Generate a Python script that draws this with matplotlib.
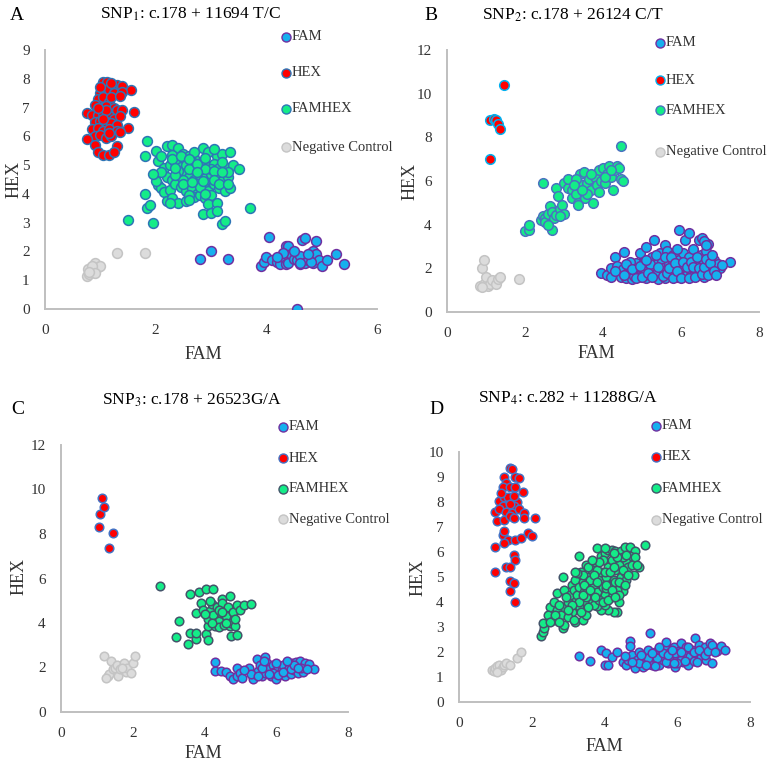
import numpy as np
import matplotlib
matplotlib.use("Agg")
import matplotlib.pyplot as plt
from matplotlib.lines import Line2D

plt.rcParams['font.family'] = ['Liberation Serif', 'DejaVu Serif']
plt.rcParams['mathtext.fontset'] = 'stix'

# ---------------- data (FAM, HEX) ----------------
# panel A
a_hex = [(1.05,7.9),(1.12,7.9),(1.3,7.8),(1.4,7.75),(1.55,7.6),(1.2,7.7),(1.1,7.6),(1.0,7.5),
         (1.25,7.5),(1.4,7.55),(0.95,7.3),(1.05,7.35),(1.15,7.2),(1.2,7.35),(1.35,7.4),(0.9,7.1),
         (1.0,7.0),(1.1,7.05),(1.25,7.0),(1.3,6.9),(1.4,6.9),(0.75,6.8),(0.85,6.75),(0.95,6.75),
         (1.05,6.8),(1.15,6.7),(1.25,6.6),(1.35,6.7),(1.6,6.85),(0.9,6.5),(1.0,6.55),(1.1,6.5),
         (1.2,6.45),(1.3,6.4),(0.85,6.25),(0.95,6.3),(1.05,6.2),(1.15,6.25),(1.3,6.2),(1.5,6.3),
         (0.9,6.0),(1.0,6.05),(1.1,5.95),(1.2,6.0),(1.35,6.15),(0.75,5.9),(0.9,5.7),(1.3,5.65),
         (0.95,5.45),(1.05,5.35),(1.15,5.35),(1.25,5.45),(1.1,6.9),(1.0,7.7),(1.2,7.85),(0.95,7.0),
         (1.05,6.6),(1.15,6.1)]
a_famhex = [(2.0,5.5),(2.05,5.15),(2.1,5.3),(2.2,5.65),(2.3,5.7),(2.4,5.6),(2.5,5.4),(2.6,5.3),
            (2.7,5.25),(2.85,5.6),(2.95,5.45),(3.1,5.3),(3.2,5.4),(3.35,5.45),(2.15,4.9),(2.25,5.0),
            (2.35,5.1),(2.45,4.95),(2.55,5.0),(2.65,5.1),(2.75,4.9),(2.85,5.0),(2.95,4.95),(3.05,5.05),
            (3.15,4.9),(3.25,4.95),(3.4,5.0),(3.5,4.85),(2.05,4.3),(2.1,4.2),(2.2,4.6),(2.3,4.5),
            (2.4,4.4),(2.5,4.7),(2.6,4.6),(2.7,4.5),(2.8,4.65),(2.9,4.55),(3.0,4.7),(3.1,4.6),
            (3.2,4.45),(3.3,4.6),(2.15,4.05),(2.25,4.15),(2.35,4.35),(2.45,4.25),(2.55,4.1),(2.65,4.2),
            (2.75,4.0),(2.85,4.3),(2.95,4.1),(3.05,4.35),(3.15,4.2),(3.25,4.1),(3.35,4.2),(2.2,3.75),
            (2.3,3.85),(2.4,3.7),(2.55,3.75),(2.7,3.9),(2.8,3.95),(2.9,3.85),(3.0,3.95),(2.95,3.65),
            (3.1,3.7),(2.0,4.45),(2.6,4.85),(2.8,4.25),(3.0,4.85),(2.4,4.8),(2.7,5.45),(3.05,5.55),
            (2.3,5.35),(3.2,5.1),(2.5,4.5),(2.9,4.85),(3.3,4.75),(2.1,4.75),(2.35,4.65),
            (2.3,5.2),(2.45,5.3),(2.6,5.2),(2.75,5.05),(2.9,5.25),(3.05,4.8),(3.2,4.75),(2.5,4.35),
            (2.65,4.4),(2.75,4.75),(2.85,4.45),(3.05,4.5),(3.15,4.35),(2.35,4.9),(2.9,4.0),(3.3,4.35),
            (2.6,3.95),
            (1.5,3.1),(1.8,4.0),(1.85,3.5),(1.9,3.6),(1.95,3.0),(1.8,5.3),(1.85,5.85),(1.95,4.7),
            (3.7,3.5),(3.2,2.95),(3.25,3.05),(2.85,3.3),(3.0,3.35),(3.1,3.4),(2.6,3.8),(2.25,3.7)]
a_fam = [(3.9,1.5),(3.95,1.65),(4.0,1.8),(4.05,2.5),(4.1,1.7),(4.2,1.65),(4.25,1.55),(4.3,1.8),
         (4.35,2.2),(4.4,2.2),(4.35,1.55),(4.4,1.6),(4.45,1.9),(4.5,1.75),(4.55,1.7),(4.6,1.55),
         (4.6,1.85),(4.65,2.4),(4.7,2.45),(4.7,1.6),(4.75,1.7),(4.8,1.95),(4.85,2.0),(4.9,2.35),
         (4.9,1.9),(4.85,1.6),(4.95,1.7),(5.0,1.5),(5.1,1.7),(5.25,1.9),(5.4,1.55),(4.3,1.95),
         (4.5,2.0),(4.6,1.6),(4.8,1.65),(2.8,1.75),(3.0,2.0),(3.3,1.75),(4.55,0.0),(4.2,1.8),(4.75,1.9)]
a_neg = [(0.75,1.15),(0.8,1.2),(0.78,1.4),(0.85,1.3),(0.9,1.6),(0.95,1.45),(1.0,1.5),(0.85,1.5),
         (0.9,1.25),(1.3,1.95),(1.8,1.95),(0.8,1.3)]

# panel B
b_hex = [(1.1,7.0),(1.1,8.8),(1.2,8.85),(1.25,8.8),(1.3,8.6),(1.35,8.4),(1.45,10.4)]
b_famhex = [(2.0,3.7),(2.1,3.75),(2.1,4.0),(2.4,4.2),(2.45,4.4),(2.5,4.3),(2.5,4.1),(2.6,4.5),
            (2.65,4.85),(2.7,3.75),(2.7,4.6),(2.75,4.3),(2.8,4.45),(2.8,5.7),(2.85,5.3),(2.9,4.7),
            (2.95,4.9),(3.0,4.5),(3.0,5.9),(3.1,5.7),(3.2,5.6),(3.2,5.2),(3.3,5.4),(3.35,5.0),
            (3.4,6.3),(3.45,5.8),(3.5,6.4),(3.5,5.5),(3.55,5.2),(3.6,5.9),(3.65,6.1),(3.7,5.6),
            (3.75,5.0),(3.8,6.2),(3.85,5.8),(3.9,6.5),(3.95,6.0),(4.0,6.6),(4.05,5.9),(4.1,6.3),
            (4.15,6.7),(4.2,6.2),(4.25,5.6),(4.3,6.5),(4.35,6.7),(4.4,6.6),(4.45,6.1),(4.5,6.0),
            (4.45,7.6),(2.45,5.9),(3.1,6.1),(3.3,6.1),(3.6,5.4),(3.9,5.5),(3.35,4.9),(4.05,6.2),
            (3.25,5.8),(2.6,4.0),(2.9,4.4),(3.45,5.6),(4.2,6.5),(3.7,6.3)]
b_fam = [(3.95,1.8),(4.1,1.7),(4.2,2.0),(4.3,2.5),(4.35,2.1),(4.4,1.8),(4.45,1.6),(4.5,1.95),
         (4.55,2.75),(4.6,1.55),(4.65,2.1),(4.7,1.75),(4.75,1.5),(4.8,2.0),(4.85,2.25),(4.9,1.6),
         (4.95,2.7),(5.0,1.9),(5.05,2.3),(5.1,1.55),(5.1,3.0),(5.15,2.05),(5.2,1.7),(5.25,2.5),
         (5.3,3.3),(5.3,1.9),(5.35,2.2),(5.4,1.5),(5.45,2.7),(5.5,1.8),(5.5,2.35),(5.55,2.0),
         (5.6,3.05),(5.6,1.55),(5.65,2.8),(5.7,2.2),(5.75,1.8),(5.8,2.6),(5.85,2.0),(5.9,1.6),
         (5.95,3.75),(5.95,2.4),(6.0,1.85),(6.05,2.7),(6.1,3.3),(6.1,2.1),(6.15,1.7),(6.2,3.6),
         (6.2,2.5),(6.25,1.9),(6.3,2.9),(6.35,2.2),(6.4,1.75),(6.45,3.3),(6.5,2.6),(6.5,1.95),
         (6.55,3.4),(6.6,2.3),(6.6,1.6),(6.65,2.8),(6.7,3.1),(6.75,2.0),(6.8,1.8),(6.85,2.4),
         (6.9,2.1),(7.0,2.0),(7.25,2.3),(5.0,2.0),(5.2,2.2),(5.4,1.9),(5.8,2.3),(6.0,2.1),
         (4.7,2.3),(5.9,2.9),(6.3,1.65),(5.6,1.9),(5.05,1.75),(4.8,1.65),(6.95,2.2),
         (4.2,1.6),(4.3,1.9),(4.55,1.7),(4.6,2.2),(4.75,1.95),(4.85,1.55),(4.95,2.1),(5.0,1.6),
         (5.1,2.4),(5.15,1.8),(5.25,1.6),(5.35,2.6),(5.4,2.05),(5.55,1.65),(5.6,2.5),(5.65,1.8),
         (5.7,2.0),(5.75,2.5),(5.8,1.55),(5.85,2.25),(5.9,1.9),(6.0,1.55),(6.05,2.3),(6.15,2.05),
         (6.2,1.55),(6.25,2.3),(6.3,2.05),(6.35,1.6),(6.4,2.5),(6.45,2.0),(6.55,1.75),(6.6,2.05),
         (6.65,2.45),(6.7,1.7),(6.75,2.25),(6.8,2.6),(6.85,1.9),(6.9,1.7),(7.05,2.15),(6.6,3.25),
         (6.65,3.05)]
b_neg = [(0.85,1.2),(0.9,2.0),(0.95,2.4),(0.95,1.3),(1.0,1.6),(1.05,1.2),(1.1,1.3),(1.15,1.45),
         (1.25,1.3),(1.3,1.5),(1.35,1.6),(1.85,1.5),(0.9,1.15)]

# panel C
c_hex = [(1.05,8.3),(1.1,8.9),(1.15,9.6),(1.2,9.2),(1.35,7.35),(1.45,8.05)]
c_famhex = [(2.75,5.65),(3.2,3.35),(3.3,4.1),(3.55,3.05),(3.6,3.55),(3.6,5.3),(3.75,3.3),(3.75,3.55),
            (3.75,4.45),(3.85,5.4),(3.9,4.9),(3.95,4.6),(4.05,5.55),(4.05,3.5),(4.1,3.85),(4.1,4.2),
            (4.1,3.25),(4.15,4.55),(4.2,4.85),(4.25,5.55),(4.25,4.35),(4.3,4.0),(4.3,3.85),(4.35,4.7),
            (4.4,4.1),(4.4,3.8),(4.45,4.45),(4.5,5.1),(4.5,4.9),(4.55,3.9),(4.6,4.3),(4.65,4.7),
            (4.7,5.2),(4.7,3.85),(4.75,4.0),(4.75,3.4),(4.8,4.5),(4.85,3.85),(4.9,4.8),(4.9,3.45),
            (5.0,4.6),(5.1,4.8),(5.3,4.85),(4.2,4.0),(4.4,4.6),(4.6,4.0),(4.0,4.4),(4.15,5.0),
            (4.85,4.2),(4.5,4.5)]
c_fam = [(4.3,1.85),(4.3,2.25),(4.45,1.85),(4.6,1.8),(4.7,1.6),(4.8,1.5),(4.9,1.6),(4.9,2.0),
         (5.0,1.75),(5.05,1.55),(5.2,1.9),(5.25,2.0),(5.35,1.5),(5.4,1.7),(5.45,2.4),(5.5,1.85),
         (5.55,2.1),(5.6,1.6),(5.7,2.45),(5.7,1.75),(5.75,2.2),(5.8,1.95),(5.85,1.6),(5.9,2.1),
         (5.95,1.8),(6.0,1.5),(6.05,2.0),(6.1,1.7),(6.15,1.9),(6.2,2.1),(6.25,1.6),(6.3,1.85),
         (6.35,2.0),(6.4,1.7),(6.45,2.2),(6.5,1.9),(6.55,2.25),(6.6,1.75),(6.65,2.3),(6.7,2.0),
         (6.75,1.8),(6.8,2.2),(6.9,2.15),(7.05,1.95),(6.0,2.2),(5.6,2.0),(5.3,1.7),(6.7,2.0),
         (5.1,1.9),(5.5,1.6),(5.65,2.3),(5.9,1.75),(6.05,1.65),(6.2,1.8),(6.4,1.95),(6.5,2.1),
         (6.6,2.0),(6.85,1.95),(5.8,1.7),(6.3,2.3)]
c_neg = [(1.2,2.5),(1.3,1.6),(1.35,1.7),(1.4,2.3),(1.45,1.95),(1.5,2.0),(1.55,2.1),(1.6,1.6),
         (1.65,1.95),(1.75,2.2),(1.8,1.8),(1.85,2.0),(1.95,1.75),(2.0,2.2),(2.05,2.5),(1.25,1.55),
         (1.7,2.0)]

# panel D
d_hex = [(1.4,9.35),(1.45,9.3),(1.25,9.0),(1.55,9.0),(1.65,8.95),(1.3,8.75),(1.2,8.6),(1.4,8.6),
         (1.55,8.6),(1.75,8.4),(1.1,8.05),(1.25,8.2),(1.35,8.2),(1.6,8.0),(1.2,7.85),(1.5,7.85),
         (1.0,7.6),(1.1,7.7),(1.3,7.6),(1.45,7.55),(1.65,7.7),(1.8,7.55),(1.05,7.25),(1.25,7.3),
         (1.4,7.45),(1.5,7.35),(1.8,7.35),(2.1,7.35),(1.2,6.7),(1.25,6.85),(1.35,6.5),(1.55,6.5),
         (1.7,6.55),(1.9,6.75),(2.0,6.65),(1.25,6.35),(1.0,6.2),(1.5,5.9),(1.55,5.7),(1.3,5.4),
         (1.4,5.4),(1.0,5.2),(1.4,4.85),(1.5,4.75),(1.4,4.45),(1.55,4.0),(1.15,8.35),(1.5,8.25),
         (1.4,7.9)]
d_famhex = [(2.25,2.65),(2.3,2.8),(2.35,2.95),(2.3,3.15),(2.5,3.8),(2.45,3.5),(2.6,3.3),(2.7,3.7),
            (2.85,2.95),(2.9,3.1),(2.7,4.35),(2.9,4.5),(2.85,5.0),(3.2,3.2),(3.1,3.6),(3.3,5.85),
            (3.4,3.3),(3.5,3.5),(3.5,5.5),(3.75,5.6),(3.8,6.15),(3.9,5.85),(4.0,5.95),(4.1,6.1),
            (4.2,6.1),(4.3,6.05),(4.45,6.05),(4.55,6.2),(4.7,6.2),(4.85,6.05),(5.1,6.3),(4.95,5.4),
            (4.8,5.1),(4.7,5.85),(4.6,5.6),(4.5,4.45),(4.4,4.0),(4.35,3.6),(4.25,3.6),(4.1,3.7),
            (3.9,3.7),(3.8,3.85),(3.65,4.05),(3.45,4.0),(3.3,3.85),(3.2,4.1),
            (2.8,3.5),(2.9,3.8),(3.0,4.0),(3.05,4.3),(3.1,4.7),(3.15,4.5),(3.2,4.9),(3.25,4.3),
            (3.3,4.6),(3.35,5.2),(3.4,4.8),(3.45,4.4),(3.5,4.6),(3.55,5.0),(3.6,4.3),(3.65,5.3),
            (3.7,4.7),(3.75,5.0),(3.8,4.4),(3.85,4.9),(3.9,5.2),(3.95,4.6),(4.0,4.3),(4.05,5.0),
            (4.1,5.4),(4.15,4.7),(4.2,5.7),(4.25,4.9),(4.3,5.3),(4.35,4.5),(4.4,5.5),(4.45,5.0),
            (4.5,5.8),(4.55,5.2),(4.6,4.9),(4.65,5.4),(4.2,4.2),(4.0,3.9),(3.7,3.9),(3.5,4.2),
            (3.3,4.0),(3.0,3.4),(3.1,3.9),(3.4,5.1),(3.6,4.9),(3.8,5.3),(3.85,4.1),(4.05,4.55),
            (4.3,4.8),(4.4,4.3),(3.25,5.15),(3.55,5.4),(4.6,5.9),(3.95,5.7),(2.6,4.0),(2.75,3.9),
            (2.5,3.2),(2.65,3.5),(2.75,3.2),(2.95,4.2),(3.0,3.7),(3.15,3.3),(3.2,5.2),(3.35,3.6),
            (3.4,4.3),(3.45,4.7),(3.55,3.8),(3.6,4.5),(3.7,5.1),(3.75,4.2),(3.8,4.8),(3.85,5.6),
            (3.95,4.0),(4.0,5.2),(4.05,4.7),(4.1,4.1),(4.15,5.2),(4.2,4.5),(4.25,5.4),(4.3,4.2),
            (4.35,5.8),(4.4,4.8),(4.5,5.3),(4.55,4.7),(4.65,5.1),(4.75,5.5),(4.85,5.8),(4.9,5.5),
            (4.0,6.15),(4.25,5.95),(3.65,5.7)]
d_fam = [(3.3,1.85),(3.6,1.65),(3.9,2.1),(4.0,1.5),(4.05,1.95),(4.1,1.5),(4.2,1.8),(4.35,2.0),
         (4.5,1.6),(4.6,1.5),(4.65,1.7),(4.7,2.45),(4.7,2.25),(4.75,1.9),(4.8,1.5),(4.85,1.35),
         (4.9,1.7),(4.95,2.0),(5.0,1.6),(5.05,1.4),(5.1,1.85),(5.15,1.6),(5.2,2.1),(5.25,2.75),
         (5.3,1.5),(5.35,1.8),(5.4,2.0),(5.45,1.6),(5.5,1.5),(5.55,1.9),(5.6,1.7),(5.65,2.15),
         (5.7,2.4),(5.75,1.55),(5.8,2.0),(5.85,1.75),(5.9,2.2),(5.95,1.4),(6.0,1.8),(6.05,2.05),
         (6.1,2.35),(6.15,1.6),(6.2,1.9),(6.25,2.2),(6.3,1.5),(6.35,1.85),(6.4,2.1),(6.45,1.65),
         (6.5,2.55),(6.55,1.95),(6.6,2.3),(6.65,1.8),(6.7,2.0),(6.75,2.2),(6.8,1.7),(6.9,2.35),
         (6.95,1.55),(7.0,2.1),(7.1,2.05),(7.2,2.25),(7.3,2.1),(5.95,1.95),(5.45,1.75),(6.1,1.7),
         (5.2,1.75),(4.95,1.55),
         (4.55,1.85),(4.75,1.6),(5.0,1.9),(5.15,1.5),(5.3,1.95),(5.4,1.45),(5.6,1.95),(5.7,1.6),
         (5.75,1.9),(5.85,2.1),(6.0,1.55),(6.1,2.0),(6.2,1.65),(6.3,2.2),(6.45,2.0),(6.55,1.6),
         (6.6,2.1),(6.75,1.9),(6.85,2.05),(6.95,2.3),(7.05,2.0),(5.5,2.2),(5.9,1.55)]
d_neg = [(0.9,1.3),(0.95,1.25),(1.0,1.35),(1.05,1.45),(1.1,1.5),(1.15,1.3),(1.2,1.4),(1.25,1.5),
         (1.3,1.55),(1.4,1.5),(1.6,1.75),(1.7,2.0),(1.05,1.2)]

series_names = ['FAM', 'HEX', 'FAMHEX', 'Negative Control']
titles = ['SNP$_1$: c.178 + 11694 T/C', 'SNP$_2$: c.178 + 26124 C/T',
          'SNP$_3$: c.178 + 26523G/A', 'SNP$_4$: c.282 + 11288G/A']
letters = ['A', 'B', 'C', 'D']

# ---------------- styles ----------------
blue_fill = '#16B0EE'
purple = '#7030A0'
red = '#FF0000'
green = '#14EC88'
grey_fill = '#DCDCDC'
grey_edge = '#C4C4C4'

panels = [
    dict(data=[a_fam, a_hex, a_famhex, a_neg], rect=[45, 50, 377, 309], xmax=6, ymax=9, ystep=1,
         edges=[purple, '#2E75B6', '#2E75B6', grey_edge], ms=50,
         xlab=(0.476, -0.143), ylab=(-0.069, 0.5), title=(190, 14), letter=(17, 15),
         leg_x=286, leg_y=[37, 73, 109, 147]),
    dict(data=[b_fam, b_hex, b_famhex, b_neg], rect=[447, 50, 759, 312], xmax=8, ymax=12, ystep=2,
         edges=[purple, '#00B0F0', '#4A72C0', grey_edge], ms=48,
         xlab=(0.48, -0.127), ylab=(-0.09, 0.5), title=(573, 15), letter=(431, 15),
         leg_x=660, leg_y=[43, 80, 110, 152]),
    dict(data=[c_fam, c_hex, c_famhex, c_neg], rect=[61, 445, 348, 712], xmax=8, ymax=12, ystep=2,
         edges=[purple, '#4472C4', '#44546A', grey_edge], ms=38,
         xlab=(0.495, -0.122), ylab=(-0.115, 0.506), title=(192, 400), letter=(18, 410),
         leg_x=283, leg_y=[427, 458, 489, 519]),
    dict(data=[d_fam, d_hex, d_famhex, d_neg], rect=[459, 452, 750, 702], xmax=8, ymax=10, ystep=1,
         edges=[purple, '#4472C4', '#44546A', grey_edge], ms=38,
         xlab=(0.498, -0.144), ylab=(-0.113, 0.5), title=(568, 398), letter=(436, 410),
         leg_x=656, leg_y=[426, 457, 488, 520]),
]
fills = [blue_fill, red, green, grey_fill]

W, H = 767, 763
fig = plt.figure(figsize=(W / 100, H / 100), dpi=100)

for i, p in enumerate(panels):
    l, t, r, b = p['rect']
    ax = fig.add_axes([l / W, (H - b) / H, (r - l) / W, (b - t) / H])
    for k, pts in enumerate(p['data']):
        arr = np.array(pts)
        ax.scatter(arr[:, 0], arr[:, 1], s=p['ms'], c=fills[k], edgecolors=p['edges'][k],
                   linewidths=1.1, zorder=3 + k)
    ax.set_xlim(0, p['xmax'])
    ax.set_ylim(0, p['ymax'])
    ax.set_xticks(np.arange(0, p['xmax'] + 1, 2))
    ax.set_yticks(np.arange(0, p['ymax'] + 0.5, p['ystep']))
    ax.tick_params(length=0, labelsize=11, colors='#333333', pad=11)
    for s in ['top', 'right']:
        ax.spines[s].set_visible(False)
    for s in ['left', 'bottom']:
        ax.spines[s].set_color('#BFBFBF')
        ax.spines[s].set_linewidth(1.4)
    ax.patch.set_alpha(0)
    ax.set_xlabel('FAM', fontsize=13, color='#333333')
    ax.set_ylabel('HEX', fontsize=13, color='#333333')
    ax.xaxis.set_label_coords(*p['xlab'])
    ax.yaxis.set_label_coords(*p['ylab'])

    fig.text(p['title'][0] / W, 1 - p['title'][1] / H, titles[i], fontsize=12.5,
             ha='center', va='center')
    fig.text(p['letter'][0] / W, 1 - p['letter'][1] / H, letters[i], fontsize=14,
             ha='center', va='center')

    # legend drawn by hand in figure pixels
    for k, name in enumerate(series_names):
        yy = 1 - p['leg_y'][k] / H
        fig.add_artist(Line2D([p['leg_x'] / W], [yy], transform=fig.transFigure, marker='o',
                              markersize=6.5, markerfacecolor=fills[k],
                              markeredgecolor=p['edges'][k], markeredgewidth=1.0,
                              linestyle='none'))
        fig.text((p['leg_x'] + 6) / W, yy, name, fontsize=10.5, ha='left', va='center',
                 color='#333333')

fig.savefig('out.png', dpi=100)
